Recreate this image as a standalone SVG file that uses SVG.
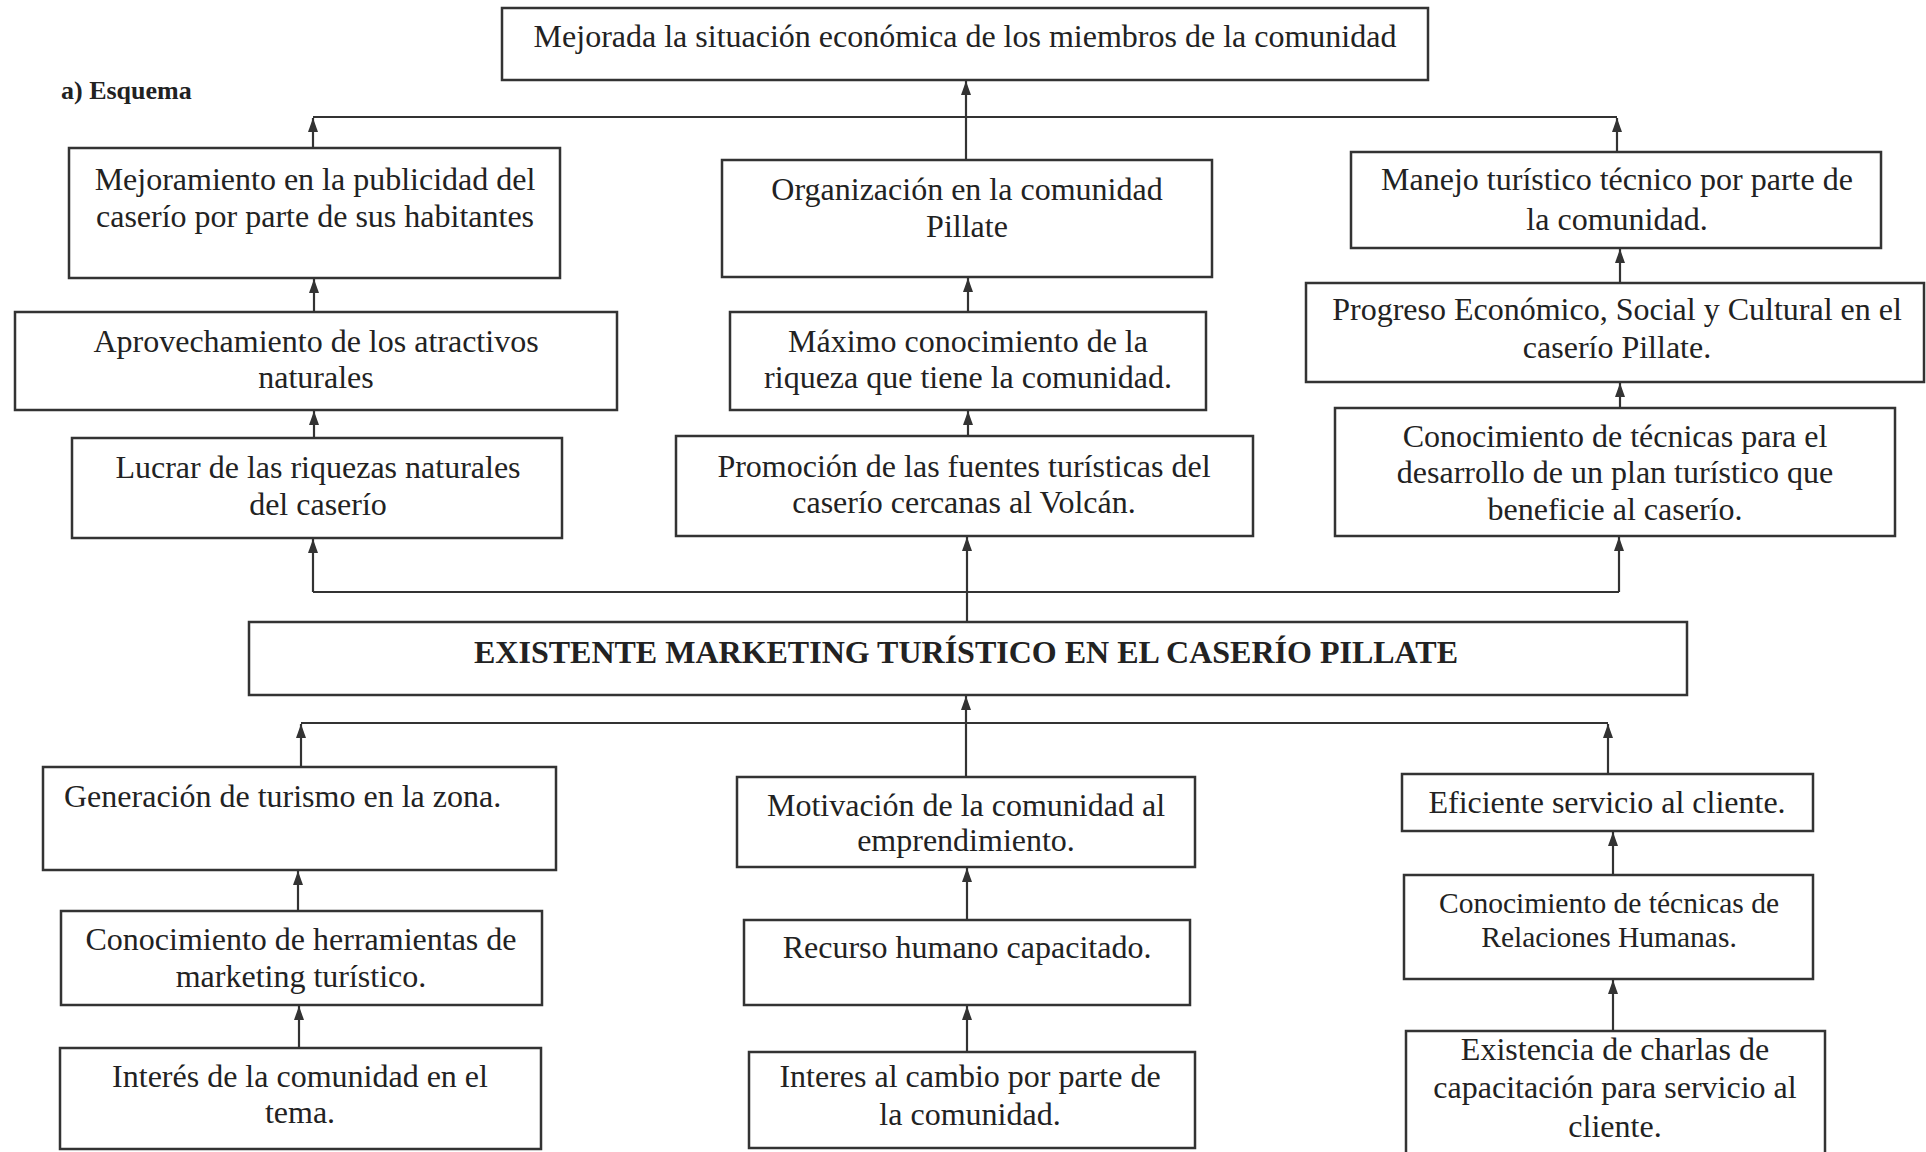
<svg xmlns="http://www.w3.org/2000/svg" width="1926" height="1152" viewBox="0 0 1926 1152">
<style>
  .box { fill: #fff; stroke: #333; stroke-width: 2.5; }
  .t { font-family: "Liberation Serif", "Times New Roman", serif; font-size: 32px; fill: #222; text-anchor: middle; }
  .tl { text-anchor: start; }
  .sm { font-size: 29.5px; }
  .b { font-weight: bold; }
  .c { fill: none; stroke: #333; stroke-width: 2.2; }
</style>
<defs>
  <marker id="ah" viewBox="0 0 14 10" refX="14" refY="5" markerWidth="14" markerHeight="10" markerUnits="userSpaceOnUse" orient="auto">
    <path d="M0,0 L14,5 L0,10 z" fill="#333"/>
  </marker>
</defs>
<rect width="1926" height="1152" fill="#fff"/>

<text x="61" y="99" class="t tl b" style="font-size:26px">a) Esquema</text>

<g id="connectors">
  <!-- top level -->
  <polyline class="c" points="313,117 1617,117"/>
  <line class="c" x1="313" y1="148" x2="313" y2="118" marker-end="url(#ah)"/>
  <line class="c" x1="1617" y1="152" x2="1617" y2="118" marker-end="url(#ah)"/>
  <line class="c" x1="966" y1="160" x2="966" y2="81" marker-end="url(#ah)"/>
  <!-- upper chains -->
  <line class="c" x1="314" y1="312" x2="314" y2="279" marker-end="url(#ah)"/>
  <line class="c" x1="314" y1="438" x2="314" y2="411" marker-end="url(#ah)"/>
  <line class="c" x1="968" y1="312" x2="968" y2="278" marker-end="url(#ah)"/>
  <line class="c" x1="968" y1="436" x2="968" y2="411" marker-end="url(#ah)"/>
  <line class="c" x1="1620" y1="283" x2="1620" y2="249" marker-end="url(#ah)"/>
  <line class="c" x1="1620" y1="408" x2="1620" y2="383" marker-end="url(#ah)"/>
  <!-- middle connector -->
  <polyline class="c" points="313,592 1619,592"/>
  <line class="c" x1="313" y1="592" x2="313" y2="539" marker-end="url(#ah)"/>
  <line class="c" x1="1619" y1="592" x2="1619" y2="537" marker-end="url(#ah)"/>
  <line class="c" x1="967" y1="622" x2="967" y2="537" marker-end="url(#ah)"/>
  <!-- lower connector -->
  <polyline class="c" points="301,723 1608,723"/>
  <line class="c" x1="301" y1="767" x2="301" y2="724" marker-end="url(#ah)"/>
  <line class="c" x1="1608" y1="774" x2="1608" y2="724" marker-end="url(#ah)"/>
  <line class="c" x1="966" y1="777" x2="966" y2="696" marker-end="url(#ah)"/>
  <!-- lower chains -->
  <line class="c" x1="298" y1="911" x2="298" y2="871" marker-end="url(#ah)"/>
  <line class="c" x1="299" y1="1048" x2="299" y2="1006" marker-end="url(#ah)"/>
  <line class="c" x1="967" y1="920" x2="967" y2="868" marker-end="url(#ah)"/>
  <line class="c" x1="967" y1="1052" x2="967" y2="1006" marker-end="url(#ah)"/>
  <line class="c" x1="1613" y1="875" x2="1613" y2="832" marker-end="url(#ah)"/>
  <line class="c" x1="1613" y1="1031" x2="1613" y2="980" marker-end="url(#ah)"/>
</g>

<g id="n-top">
  <rect class="box" x="502" y="8" width="926" height="72"/>
  <text class="t" x="965" y="47">Mejorada la situación económica de los miembros de la comunidad</text>
</g>
<g id="n-mejoramiento">
  <rect class="box" x="69" y="148" width="491" height="130"/>
  <text class="t" x="315" y="190">Mejoramiento en la publicidad del</text>
  <text class="t" x="315" y="227">caserío por parte de sus habitantes</text>
</g>
<g id="n-organizacion">
  <rect class="box" x="722" y="160" width="490" height="117"/>
  <text class="t" x="967" y="200">Organización en la comunidad</text>
  <text class="t" x="967" y="237">Pillate</text>
</g>
<g id="n-manejo">
  <rect class="box" x="1351" y="152" width="530" height="96"/>
  <text class="t" x="1617" y="190">Manejo turístico técnico por parte de</text>
  <text class="t" x="1617" y="230">la comunidad.</text>
</g>
<g id="n-aprovechamiento">
  <rect class="box" x="15" y="312" width="602" height="98"/>
  <text class="t" x="316" y="352">Aprovechamiento de los atractivos</text>
  <text class="t" x="316" y="388">naturales</text>
</g>
<g id="n-maximo">
  <rect class="box" x="730" y="312" width="476" height="98"/>
  <text class="t" x="968" y="352">Máximo conocimiento de la</text>
  <text class="t" x="968" y="388">riqueza que tiene la comunidad.</text>
</g>
<g id="n-progreso">
  <rect class="box" x="1306" y="283" width="618" height="99"/>
  <text class="t" x="1617" y="320">Progreso Económico, Social y Cultural en el</text>
  <text class="t" x="1617" y="358">caserío Pillate.</text>
</g>
<g id="n-lucrar">
  <rect class="box" x="72" y="438" width="490" height="100"/>
  <text class="t" x="318" y="478">Lucrar de las riquezas naturales</text>
  <text class="t" x="318" y="515">del caserío</text>
</g>
<g id="n-promocion">
  <rect class="box" x="676" y="436" width="577" height="100"/>
  <text class="t" x="964" y="477">Promoción de las fuentes turísticas del</text>
  <text class="t" x="964" y="513">caserío cercanas al Volcán.</text>
</g>
<g id="n-conocimiento-plan">
  <rect class="box" x="1335" y="408" width="560" height="128"/>
  <text class="t" x="1615" y="447">Conocimiento de técnicas para el</text>
  <text class="t" x="1615" y="483">desarrollo de un plan turístico que</text>
  <text class="t" x="1615" y="520">beneficie al caserío.</text>
</g>
<g id="n-existente">
  <rect class="box" x="249" y="622" width="1438" height="73"/>
  <text class="t b" x="966" y="663">EXISTENTE MARKETING TURÍSTICO EN EL CASERÍO PILLATE</text>
</g>
<g id="n-generacion">
  <rect class="box" x="43" y="767" width="513" height="103"/>
  <text class="t tl" x="64" y="807">Generación de turismo en la zona.</text>
</g>
<g id="n-motivacion">
  <rect class="box" x="737" y="777" width="458" height="90"/>
  <text class="t" x="966" y="816">Motivación de la comunidad al</text>
  <text class="t" x="966" y="851">emprendimiento.</text>
</g>
<g id="n-eficiente">
  <rect class="box" x="1402" y="774" width="411" height="57"/>
  <text class="t" x="1607" y="813">Eficiente servicio al cliente.</text>
</g>
<g id="n-herramientas">
  <rect class="box" x="61" y="911" width="481" height="94"/>
  <text class="t" x="301" y="950">Conocimiento de herramientas de</text>
  <text class="t" x="301" y="987">marketing turístico.</text>
</g>
<g id="n-recurso">
  <rect class="box" x="744" y="920" width="446" height="85"/>
  <text class="t" x="967" y="958">Recurso humano capacitado.</text>
</g>
<g id="n-relaciones">
  <rect class="box" x="1404" y="875" width="409" height="104"/>
  <text class="t sm" x="1609" y="913">Conocimiento de técnicas de</text>
  <text class="t sm" x="1609" y="947">Relaciones Humanas.</text>
</g>
<g id="n-interes">
  <rect class="box" x="60" y="1048" width="481" height="101"/>
  <text class="t" x="300" y="1087">Interés de la comunidad en el</text>
  <text class="t" x="300" y="1123">tema.</text>
</g>
<g id="n-interes-cambio">
  <rect class="box" x="749" y="1052" width="446" height="96"/>
  <text class="t" x="970" y="1087">Interes al cambio por parte de</text>
  <text class="t" x="970" y="1125">la comunidad.</text>
</g>
<g id="n-existencia">
  <rect class="box" x="1406" y="1031" width="419" height="124"/>
  <text class="t" x="1615" y="1060">Existencia de charlas de</text>
  <text class="t" x="1615" y="1098">capacitación para servicio al</text>
  <text class="t" x="1615" y="1137">cliente.</text>
</g>
</svg>
